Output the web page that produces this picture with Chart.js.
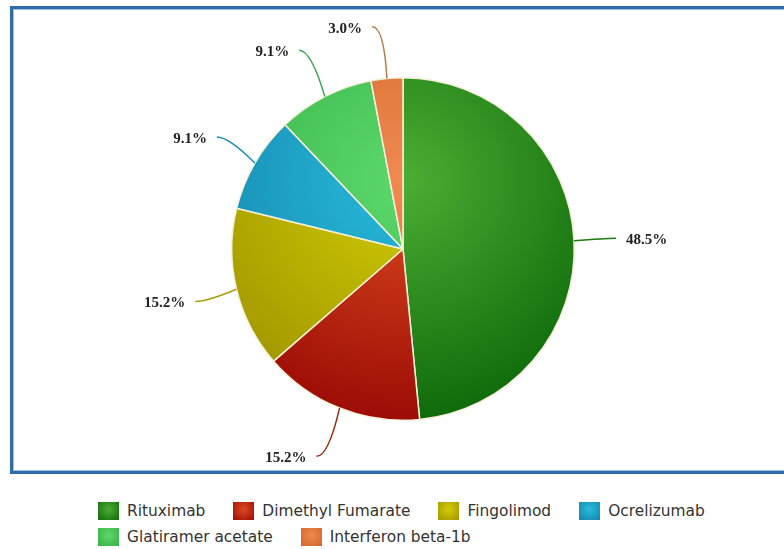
<!DOCTYPE html>
<html>
<head>
<meta charset="utf-8">
<script src="https://cdn.jsdelivr.net/npm/chart.js@4/dist/chart.umd.min.js"></script>
<style>
  html, body { margin: 0; padding: 0; background: #fff; }
  body { width: 784px; height: 549px; position: relative; overflow: hidden; }
  #frame { position: absolute; left: 10px; top: 6px; width: 800px; height: 462px; border: 3px solid #2f6ea8; box-shadow: inset 0 0 0 1px #9cc2e2; }
  #chartBox { position: absolute; left: 0; top: 0; width: 784px; height: 475px; }
  #legend { position: absolute; left: 98px; top: 498px; width: 686px; display: flex; flex-wrap: wrap;
            font-family: 'DejaVu Sans', sans-serif; font-size: 15.4px; color: #333; }
  .item { display: flex; align-items: center; height: 26px; margin-right: 28px; }
  .swatch { width: 21px; height: 18px; margin-right: 8px; }
</style>
</head>
<body>
<div id="frame"></div>
<div id="chartBox"><canvas id="pie"></canvas></div>
<div id="legend"></div>
<script>
const drugs = ['Rituximab', 'Dimethyl Fumarate', 'Fingolimod', 'Ocrelizumab', 'Glatiramer acetate', 'Interferon beta-1b'];
const shares = [48.5, 15.2, 15.2, 9.1, 9.1, 3.0];

const innerColors = ['#4cae34', '#dc4a1e', '#d2cc04', '#28bcdc', '#5cd86c', '#f08a50'];
const outerColors = ['#0f6a0a', '#9c0c06', '#a09600', '#1484ac', '#34b046', '#d0642a'];
const lineColors  = ['#1f7a16', '#9a2a14', '#a8a010', '#1a8cb0', '#3aa850', '#b87a48'];

function sliceFill(context) {
    const chart = context.chart;
    const area = chart.chartArea;
    const i = context.dataIndex;
    if (!area) return innerColors[i];
    const cx = (area.left + area.right) / 2;
    const cy = (area.top + area.bottom) / 2;
    const r = Math.min(area.right - area.left, area.bottom - area.top) / 2;
    // light spot a bit above the centre, darker toward the rim
    const gy = cy - 0.4 * r;
    const g = chart.ctx.createRadialGradient(cx, gy, 0, cx, gy, 1.4 * r);
    g.addColorStop(0, innerColors[i]);
    g.addColorStop(1, outerColors[i]);
    return g;
}

const sliceLabels = {
    id: 'sliceLabels',
    afterDatasetsDraw(chart) {
        const ctx = chart.ctx;
        const meta = chart.getDatasetMeta(0);
        meta.data.forEach((arc, i) => {
            const p = arc.getProps(['x', 'y', 'startAngle', 'endAngle', 'outerRadius'], true);
            const mid = (p.startAngle + p.endAngle) / 2;
            const cos = Math.cos(mid), sin = Math.sin(mid);
            const x0 = p.x + cos * p.outerRadius, y0 = p.y + sin * p.outerRadius;
            const ex = p.x + cos * (p.outerRadius + 30);
            const ey = p.y + sin * (p.outerRadius + 52);
            const side = cos >= 0 ? 1 : -1;
            const tx = ex + side * 12;

            ctx.save();
            ctx.strokeStyle = lineColors[i];
            ctx.lineWidth = 1.5;
            ctx.beginPath();
            ctx.moveTo(x0, y0);
            ctx.quadraticCurveTo(ex, ey, tx, ey);
            ctx.stroke();

            ctx.font = 'bold 15px "Liberation Serif"';
            ctx.fillStyle = '#222';
            ctx.textAlign = side > 0 ? 'left' : 'right';
            ctx.textBaseline = 'middle';
            ctx.fillText(shares[i].toFixed(1) + '%', tx + side * 10, ey + 2);
            ctx.restore();
        });
    }
};

new Chart(document.getElementById('pie'), {
    type: 'pie',
    data: {
        labels: drugs,
        datasets: [{
            data: shares,
            backgroundColor: sliceFill,
            borderColor: '#f6f0d8',
            borderWidth: 1.5
        }]
    },
    options: {
        responsive: true,
        maintainAspectRatio: false,
        animation: false,
        layout: { padding: { top: 77, bottom: 54, left: 22, right: 0 } },
        plugins: {
            legend: { display: false },
            tooltip: { enabled: false }
        }
    },
    plugins: [sliceLabels]
});

// html legend under the frame
const legend = document.getElementById('legend');
drugs.forEach((name, i) => {
    const item = document.createElement('div');
    item.className = 'item';
    const sw = document.createElement('span');
    sw.className = 'swatch';
    sw.style.background = 'radial-gradient(circle at 50% 40%, ' + innerColors[i] + ', ' + outerColors[i] + ')';
    const txt = document.createElement('span');
    txt.textContent = name;
    item.appendChild(sw);
    item.appendChild(txt);
    legend.appendChild(item);
});
</script>
</body>
</html>
